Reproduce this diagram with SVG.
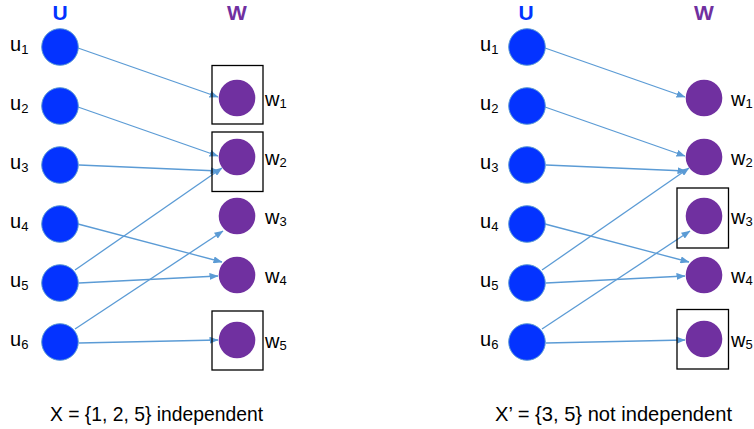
<svg xmlns="http://www.w3.org/2000/svg" width="754" height="429" viewBox="0 0 754 429">
  <style>
    .u { fill: #0433FF; stroke: #5B9BD5; stroke-width: 1; }
    .w { fill: #7030A0; }
    .box { fill: none; stroke: #000; stroke-width: 1.3; }
    .lbl { font-family: "Liberation Sans", Arial, sans-serif; font-size: 20px; fill: #000; }
    .sub { font-size: 13px; }
    .hdr { font-family: "Liberation Sans", Arial, sans-serif; font-size: 21px; font-weight: bold; text-anchor: middle; }
    .cap { font-family: "Liberation Sans", Arial, sans-serif; font-size: 21px; fill: #000; }
    .edge { fill: none; stroke: #5B9BD5; stroke-width: 1.3; marker-end: url(#ah); }
  </style>
  <defs>
    <marker id="ah" markerWidth="9" markerHeight="7" refX="8.5" refY="3.5" orient="auto" markerUnits="userSpaceOnUse">
      <path d="M0,0 L9,3.5 L0,7 z" fill="#5B9BD5"/>
    </marker>
  </defs>
  <rect width="754" height="429" fill="#fff"/>

  <!-- Left panel headers -->
  <text class="hdr" x="60" y="20" fill="#0433FF">U</text>
  <text class="hdr" x="237" y="20" fill="#7030A0">W</text>
  <!-- Right panel headers -->
  <text class="hdr" x="526" y="20" fill="#0433FF">U</text>
  <text class="hdr" x="704" y="20" fill="#7030A0">W</text>

  <!-- Connectors -->
  <g id="connectors">
    <!-- left panel -->
    <path class="edge" d="M78,48 L218,97"/>
    <path class="edge" d="M78,107 L218,156"/>
    <path class="edge" d="M79,165 L219,171"/>
    <path class="edge" d="M75,270 L222,168"/>
    <path class="edge" d="M78,224 L222,262"/>
    <path class="edge" d="M79,283 L218,276"/>
    <path class="edge" d="M75,329 L223,231"/>
    <path class="edge" d="M79,343 L218,340"/>
    <!-- right panel -->
    <path class="edge" d="M545,48 L685,97"/>
    <path class="edge" d="M545,107 L685,156"/>
    <path class="edge" d="M546,165 L686,171"/>
    <path class="edge" d="M542,270 L689,168"/>
    <path class="edge" d="M545,224 L689,262"/>
    <path class="edge" d="M546,283 L685,276"/>
    <path class="edge" d="M542,329 L690,231"/>
    <path class="edge" d="M546,343 L685,340"/>
  </g>

  <!-- Left panel U nodes -->
  <g id="L-u1"><circle class="u" cx="60" cy="47" r="18.3"/><text class="lbl" x="10" y="51">u<tspan class="sub" dy="2.5">1</tspan></text></g>
  <g id="L-u2"><circle class="u" cx="60" cy="106" r="18.3"/><text class="lbl" x="10" y="110">u<tspan class="sub" dy="2.5">2</tspan></text></g>
  <g id="L-u3"><circle class="u" cx="60" cy="165" r="18.3"/><text class="lbl" x="10" y="169">u<tspan class="sub" dy="2.5">3</tspan></text></g>
  <g id="L-u4"><circle class="u" cx="60" cy="224" r="18.3"/><text class="lbl" x="10" y="228">u<tspan class="sub" dy="2.5">4</tspan></text></g>
  <g id="L-u5"><circle class="u" cx="60" cy="283" r="18.3"/><text class="lbl" x="10" y="287">u<tspan class="sub" dy="2.5">5</tspan></text></g>
  <g id="L-u6"><circle class="u" cx="60" cy="342" r="18.3"/><text class="lbl" x="10" y="346">u<tspan class="sub" dy="2.5">6</tspan></text></g>

  <!-- Left panel W nodes -->
  <g id="L-w1"><rect class="box" x="212" y="65.5" width="51" height="58.5"/><circle class="w" cx="237" cy="98" r="18.3"/><text class="lbl" x="265" y="105.5">w<tspan class="sub" dy="2.5">1</tspan></text></g>
  <g id="L-w2"><rect class="box" x="212" y="132" width="51" height="59.5"/><circle class="w" cx="237" cy="157" r="18.3"/><text class="lbl" x="265" y="164.5">w<tspan class="sub" dy="2.5">2</tspan></text></g>
  <g id="L-w3"><circle class="w" cx="237" cy="216" r="18.3"/><text class="lbl" x="265" y="223.5">w<tspan class="sub" dy="2.5">3</tspan></text></g>
  <g id="L-w4"><circle class="w" cx="237" cy="275" r="18.3"/><text class="lbl" x="265" y="282.5">w<tspan class="sub" dy="2.5">4</tspan></text></g>
  <g id="L-w5"><rect class="box" x="212" y="311" width="51" height="59"/><circle class="w" cx="237" cy="340" r="18.3"/><text class="lbl" x="265" y="347.5">w<tspan class="sub" dy="2.5">5</tspan></text></g>

  <!-- Right panel U nodes -->
  <g id="R-u1"><circle class="u" cx="527" cy="47" r="18.3"/><text class="lbl" x="480" y="51">u<tspan class="sub" dy="2.5">1</tspan></text></g>
  <g id="R-u2"><circle class="u" cx="527" cy="106" r="18.3"/><text class="lbl" x="480" y="110">u<tspan class="sub" dy="2.5">2</tspan></text></g>
  <g id="R-u3"><circle class="u" cx="527" cy="165" r="18.3"/><text class="lbl" x="480" y="169">u<tspan class="sub" dy="2.5">3</tspan></text></g>
  <g id="R-u4"><circle class="u" cx="527" cy="224" r="18.3"/><text class="lbl" x="480" y="228">u<tspan class="sub" dy="2.5">4</tspan></text></g>
  <g id="R-u5"><circle class="u" cx="527" cy="283" r="18.3"/><text class="lbl" x="480" y="287">u<tspan class="sub" dy="2.5">5</tspan></text></g>
  <g id="R-u6"><circle class="u" cx="527" cy="342" r="18.3"/><text class="lbl" x="480" y="346">u<tspan class="sub" dy="2.5">6</tspan></text></g>

  <!-- Right panel W nodes -->
  <g id="R-w1"><circle class="w" cx="704" cy="98" r="18.3"/><text class="lbl" x="731" y="105.5">w<tspan class="sub" dy="2.5">1</tspan></text></g>
  <g id="R-w2"><circle class="w" cx="704" cy="157" r="18.3"/><text class="lbl" x="731" y="164.5">w<tspan class="sub" dy="2.5">2</tspan></text></g>
  <g id="R-w3"><rect class="box" x="677" y="188" width="51.5" height="60"/><circle class="w" cx="704" cy="216" r="18.3"/><text class="lbl" x="731" y="223.5">w<tspan class="sub" dy="2.5">3</tspan></text></g>
  <g id="R-w4"><circle class="w" cx="704" cy="275" r="18.3"/><text class="lbl" x="731" y="282.5">w<tspan class="sub" dy="2.5">4</tspan></text></g>
  <g id="R-w5"><rect class="box" x="677" y="309.5" width="51.5" height="59.5"/><circle class="w" cx="704" cy="339" r="18.3"/><text class="lbl" x="731" y="346.5">w<tspan class="sub" dy="2.5">5</tspan></text></g>

  <!-- Captions -->
  <text class="cap" x="50" y="421" textLength="213" lengthAdjust="spacingAndGlyphs">X = {1, 2, 5} independent</text>
  <text class="cap" x="495" y="421" textLength="237" lengthAdjust="spacingAndGlyphs">X’ = {3, 5} not independent</text>
</svg>
